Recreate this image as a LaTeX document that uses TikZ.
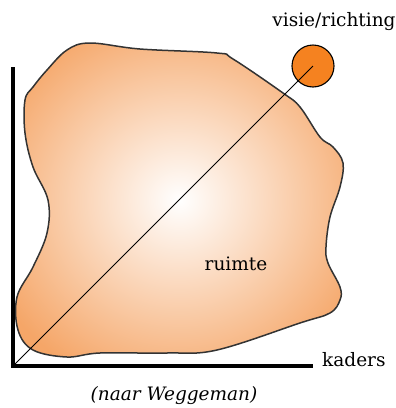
\documentclass[tikz,border=0pt]{standalone}
\usepackage{fontspec}
\setmainfont{DejaVu Serif}
\definecolor{blobouter}{RGB}{245,166,104}
\definecolor{visieorange}{RGB}{245,130,32}
\pgfdeclareradialshading{blobshading}{\pgfpoint{0bp}{0bp}}{%
  color(0bp)=(white); color(31bp)=(blobouter); color(50bp)=(blobouter)}

\begin{document}
\begin{tikzpicture}[x=1pt, y=-1pt,
    label_format/.style={font=\fontsize{18.5}{22}\selectfont, inner sep=0pt},
    axis_line/.style={line width=3.2pt},
    ]
    \useasboundingbox (0,0) rectangle (396,408);

    % --- Draw the space (blob) ---
    \shade[shading=blobshading, draw=black!80, line width=1.5pt]
      plot[smooth cycle, tension=0.6] coordinates {
        (90,43) (140,49) (217,53) (233,59) (283,93) (300,107) (320,137)
        (333,147) (343,163) (340,187) (330,217) (326,247) (328,263)
        (340,287) (340,300) (330,313) (300,323) (217,350) (167,353)
        (100,353) (67,357) (33,350) (18,330) (17,297) (33,267) (47,233)
        (48,200) (33,167) (25,133) (25,100) (33,87) (47,70) (67,50)};

    % --- Draw the axes ---
    \coordinate (origin) at (13,366);
    \coordinate (x_end) at (313,366);
    \coordinate (y_end) at (13,67);
    \draw[axis_line] (y_end) -- (origin) -- (x_end);

    % --- Vision point and diagonal ---
    \node[circle, draw, line width=1.1pt, fill=visieorange,
          minimum size=42pt, inner sep=0pt] (visie) at (313,66) {};
    \draw[line width=0.9pt] (origin) -- (visie.center);

    % --- Place text nodes ---
    \node[label_format] (visie_label) at (334,22) {visie/richting};
    \node[label_format, anchor=west] (kaders_label) at (322,360) {kaders};
    \node[label_format] (ruimte_label) at (236,264) {ruimte};
    \node[label_format, font=\fontsize{18.5}{22}\selectfont\itshape]
      (bron_label) at (174,396) {(naar Weggeman)};
\end{tikzpicture}
\end{document}
